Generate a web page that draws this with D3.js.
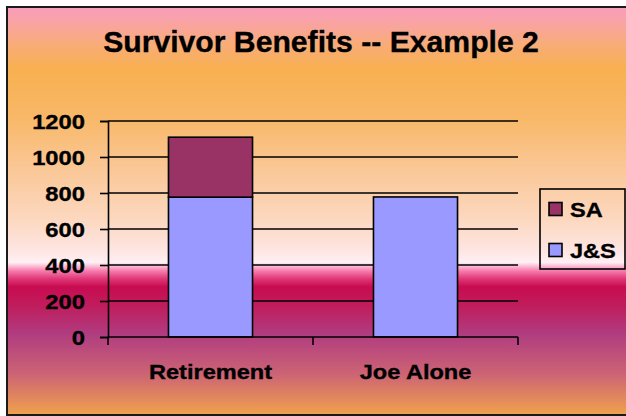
<!DOCTYPE html>
<html>
<head>
<meta charset="utf-8">
<script src="https://cdn.jsdelivr.net/npm/d3@7"></script>
<style>
  html, body { margin: 0; padding: 0; background: #ffffff; }
  svg { display: block; }
  text { font-family: "Liberation Sans", Arial, sans-serif; font-weight: bold; fill: #000; stroke: #000; stroke-width: 0.35px; }
</style>
</head>
<body>
<svg id="chart" width="626" height="416"></svg>
<script>
// ---- data ----
const categories = ["Retirement", "Joe Alone"];
const seriesNames = ["J&S", "SA"];
const jsValues = [777, 778];
const saValues = [333, 0];
const yTicks = [0, 200, 400, 600, 800, 1000, 1200];
const title = "Survivor Benefits -- Example 2";

const colors = { "J&S": "#9999FF", "SA": "#993366" };

const svg = d3.select("#chart");

// background gradient
const defs = svg.append("defs");
const grad = defs.append("linearGradient")
  .attr("id", "bg").attr("gradientUnits", "userSpaceOnUse")
  .attr("x1", 0).attr("x2", 0).attr("y1", 8).attr("y2", 415);
const stops = [
  [0, "#F99CBA"], [0.03, "#F9A2A8"], [0.09, "#F8AC78"], [0.15, "#F8B050"],
  [0.27, "#F8B868"], [0.40, "#FAC898"], [0.52, "#FCD8C0"], [0.60, "#FEE6E4"],
  [0.625, "#FFF0F4"], [0.645, "#F880B0"], [0.665, "#E03878"], [0.685, "#C80C50"],
  [0.73, "#C01C5C"], [0.80, "#B03C80"], [0.90, "#CC6474"], [1, "#F0A24C"]
];
stops.forEach(s => grad.append("stop").attr("offset", s[0]).attr("stop-color", s[1]));

svg.append("rect")
  .attr("x", 7).attr("y", 7).attr("width", 640).attr("height", 408)
  .attr("fill", "url(#bg)").attr("stroke", "#1a1a1a").attr("stroke-width", 2);

// scales
const plot = { left: 108, right: 518, top: 121, bottom: 337 };
const x = d3.scaleBand().domain(categories).range([plot.left, plot.right]).padding(0);
const y = d3.scaleLinear().domain([0, 1200]).range([plot.bottom, plot.top]);
const barW = x.bandwidth() * 0.41;

// gridlines
svg.append("g").selectAll("line").data(yTicks.filter(d => d > 0)).join("line")
  .attr("x1", plot.left).attr("x2", plot.right)
  .attr("y1", d => y(d)).attr("y2", d => y(d))
  .attr("stroke", "#000").attr("stroke-width", 1.6);

// y axis
const yAxis = svg.append("g").attr("transform", `translate(${plot.left},0)`)
  .call(d3.axisLeft(y).tickValues(yTicks).tickSize(8).tickFormat(d3.format("d")));
yAxis.select(".domain").attr("stroke", "#000").attr("stroke-width", 1.6);
yAxis.selectAll(".tick line").attr("stroke", "#000").attr("stroke-width", 1.6);
yAxis.selectAll(".tick text")
  .attr("x", 0).attr("dy", "0.36em")
  .attr("transform", "translate(-23,0) scale(1.16,1)")
  .style("font-size", "20.5px").style("font-family", "'Liberation Sans', Arial, sans-serif")
  .style("font-weight", "bold").attr("fill", "#000");

// stacked data
const rows = categories.map((c, i) => ({ cat: c, "J&S": jsValues[i], "SA": saValues[i] }));
const stacked = d3.stack().keys(seriesNames)(rows);

svg.append("g").selectAll("g").data(stacked).join("g")
  .attr("fill", d => colors[d.key])
  .selectAll("rect").data(d => d.filter(p => p[1] - p[0] > 0)).join("rect")
  .attr("x", d => x(d.data.cat) + x.bandwidth() / 2 - barW / 2)
  .attr("width", barW)
  .attr("y", d => y(d[1]))
  .attr("height", d => y(d[0]) - y(d[1]))
  .attr("stroke", "#000").attr("stroke-width", 1.6);

// x axis
const xAxisG = svg.append("g");
xAxisG.append("line")
  .attr("x1", plot.left).attr("x2", plot.right)
  .attr("y1", y(0)).attr("y2", y(0))
  .attr("stroke", "#000").attr("stroke-width", 1.6);
const boundaries = categories.map(c => x(c)).concat([x.range()[1]]);
xAxisG.selectAll("line.tk").data(boundaries).join("line").attr("class", "tk")
  .attr("x1", d => d).attr("x2", d => d)
  .attr("y1", y(0)).attr("y2", y(0) + 8)
  .attr("stroke", "#000").attr("stroke-width", 1.6);
xAxisG.selectAll("text").data(categories).join("text")
  .attr("text-anchor", "middle")
  .attr("transform", d => `translate(${x(d) + x.bandwidth() / 2},${y(0) + 42}) scale(1.15,1)`)
  .style("font-size", "20.5px")
  .text(d => d);

// title
svg.append("text")
  .attr("text-anchor", "middle")
  .attr("transform", "translate(321,52) scale(1.04,1)")
  .style("font-size", "29px")
  .text(title);

// legend
const legend = svg.append("g");
legend.append("rect")
  .attr("x", 540).attr("y", 189).attr("width", 85).attr("height", 80)
  .attr("fill", "none").attr("stroke", "#000").attr("stroke-width", 1.6);
const legendItems = seriesNames.slice().reverse();
legendItems.forEach((name, i) => {
  const cy = 209 + i * 41;
  legend.append("rect")
    .attr("x", 549).attr("y", cy - 6.5).attr("width", 13).attr("height", 13)
    .attr("fill", colors[name]).attr("stroke", "#000").attr("stroke-width", 1.6);
  legend.append("text")
    .attr("transform", `translate(570,${cy + 8}) scale(1.15,1)`)
    .style("font-size", "20.5px")
    .text(name);
});
</script>
</body>
</html>
